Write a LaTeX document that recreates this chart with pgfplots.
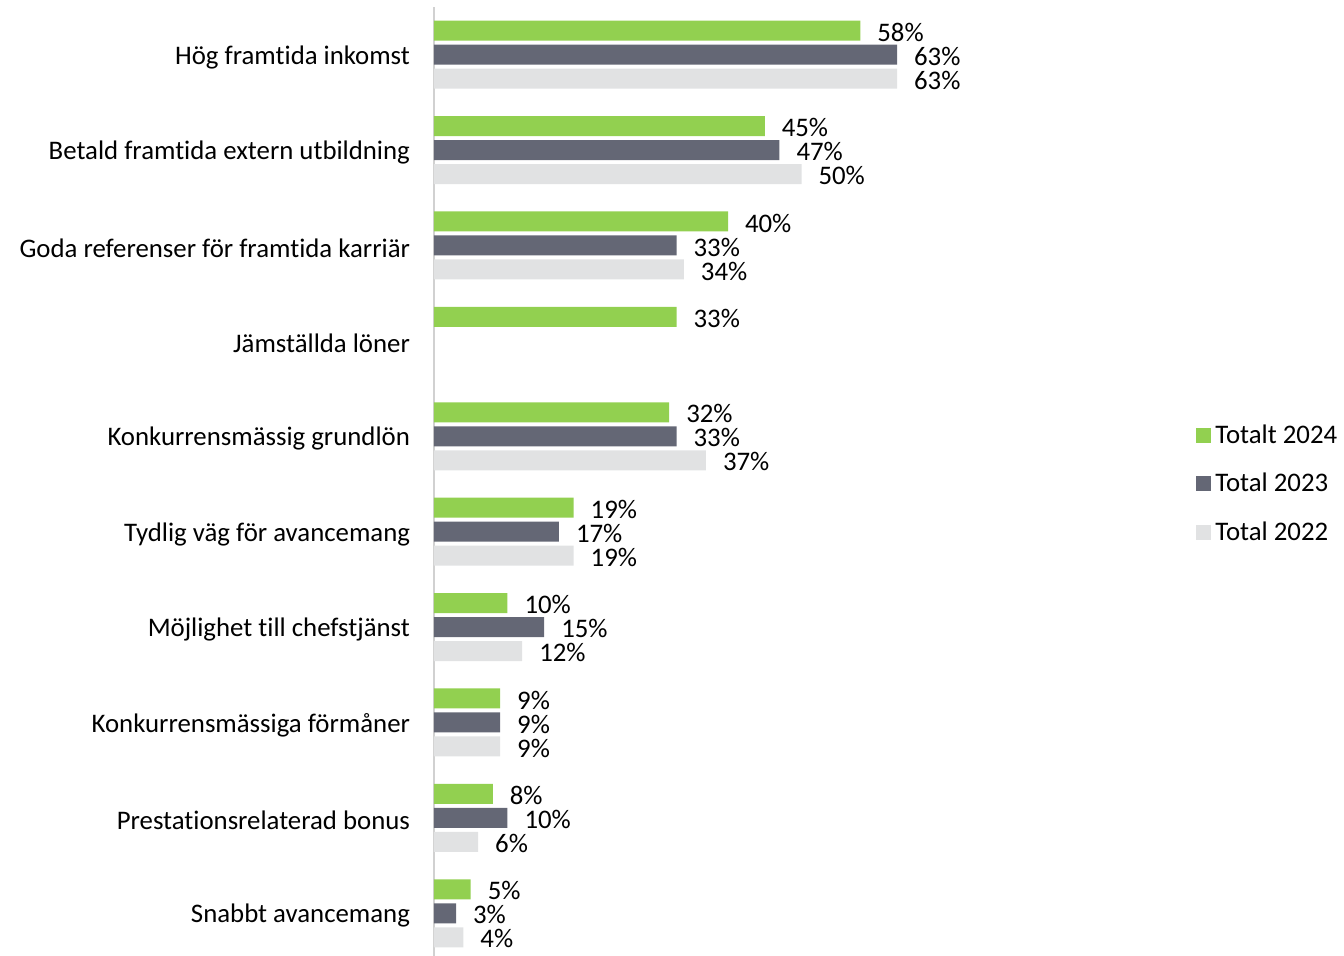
\documentclass[border=0pt]{standalone}
\usepackage{pgfplots}
\pgfplotsset{compat=1.18}
\usepackage{fontspec}
\setmainfont{Carlito}[Ligatures=NoCommon]

\definecolor{c24}{HTML}{92D050}
\definecolor{c23}{HTML}{646775}
\definecolor{c22}{HTML}{E1E2E3}

% categories numbered from the bottom (Snabbt = 0, Hög = 9)
\pgfplotstableread{
y v
9 58
8 45
7 40
6 33
5 32
4 19
3 10
2 9
1 8
0 5
}\tblA
\pgfplotstableread{
y v
9 63
8 47
7 33
5 33
4 17
3 15
2 9
1 10
0 3
}\tblB
\pgfplotstableread{
y v
9 63
8 50
7 34
5 37
4 19
3 12
2 9
1 6
0 4
}\tblC

\begin{document}
\begin{tikzpicture}
\path[use as bounding box] (0,0) rectangle (672pt,478pt);
\begin{axis}[
    at={(217pt,-2.5pt)}, anchor=south west,
    scale only axis,
    width=367.5pt, height=477pt,
    xbar, bar width=10pt,
    xmin=0, xmax=100,
    ymin=-0.5, ymax=9.5,
    axis x line=none,
    axis y line*=left,
    y axis line style={draw=black!18, line width=0.8pt, -},
    ytick={0,...,9},
    yticklabels={Snabbt avancemang, Prestationsrelaterad bonus, Konkurrensmässiga förmåner,
        Möjlighet till chefstjänst, Tydlig väg för avancemang, Konkurrensmässig grundlön,
        Jämställda löner, Goda referenser för framtida karriär,
        Betald framtida extern utbildning, Hög framtida inkomst},
    major tick length=0pt,
    yticklabel style={font=\fontsize{13.4}{16}\selectfont, xshift=-8.5pt, yshift=-1.3pt},
    /pgf/number format/assume math mode=true,
    point meta=x,
    nodes near coords={\pgfmathprintnumber{\pgfplotspointmeta}\%},
    nodes near coords style={font=\fontsize{13.4}{16}\selectfont, anchor=west, xshift=5pt, yshift=-0.8pt},
    legend style={draw=none, at={(1.0286,0.5)}, anchor=west,
        font=\fontsize{13.4}{16}\selectfont, row sep=9.5pt,
        cells={anchor=west}},
    legend image code/.code={\path[#1, draw=none] (0pt,-3.75pt) rectangle (7.5pt,3.75pt);},
    clip=false,
]
\addplot[fill=c24, draw=none, bar shift=12pt] table[x=v, y=y] {\tblA};
\addplot[fill=c23, draw=none, bar shift=0pt] table[x=v, y=y] {\tblB};
\addplot[fill=c22, draw=none, bar shift=-12pt] table[x=v, y=y] {\tblC};
\legend{Totalt 2024, Total 2023, Total 2022}
\end{axis}
\end{tikzpicture}
\end{document}
